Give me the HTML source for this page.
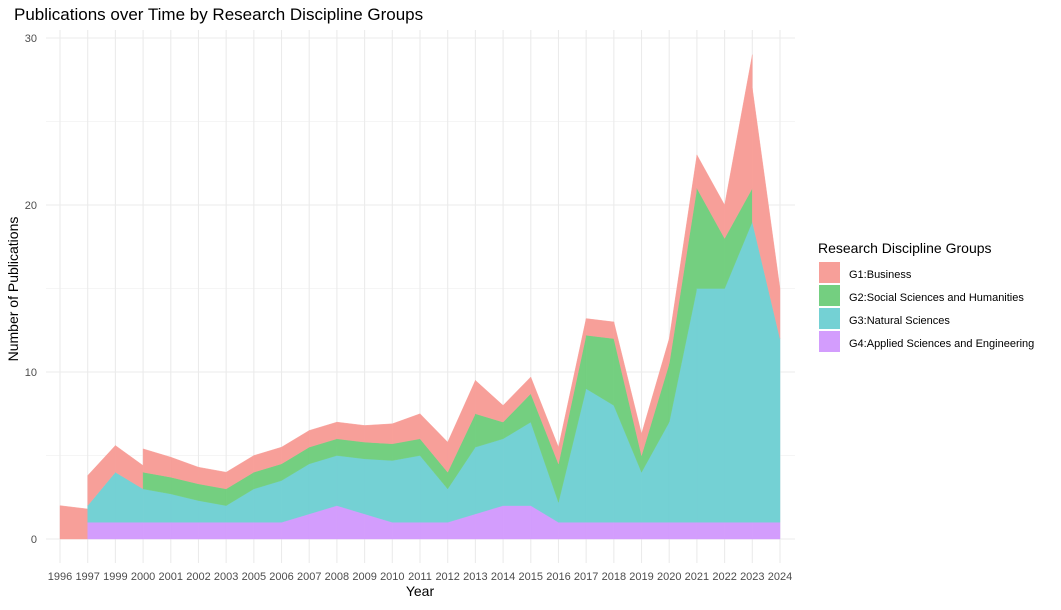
<!DOCTYPE html>
<html><head><meta charset="utf-8"><style>
body{margin:0;background:#fff;width:1061px;height:605px;overflow:hidden}
svg{font-family:"Liberation Sans",sans-serif}
</style></head><body>
<svg id="chart" width="1061" height="605" viewBox="0 0 1061 605">
<text x="14" y="20" font-size="17" fill="#000">Publications over Time by Research Discipline Groups</text>
<g id="grid"></g><g id="areas"></g><g id="axes"></g>
<text x="420" y="596" font-size="14" text-anchor="middle">Year</text>
<text transform="translate(18,289) rotate(-90)" font-size="14" text-anchor="middle">Number of Publications</text>
<g>
<text x="818" y="253" font-size="14">Research Discipline Groups</text>
<rect x="819" y="262" width="21" height="21" fill="#f79f99"/>
<text x="849" y="278" font-size="11">G1:Business</text>
<rect x="819" y="285" width="21" height="21" fill="#74cf80"/>
<text x="849" y="301" font-size="11">G2:Social Sciences and Humanities</text>
<rect x="819" y="308" width="21" height="21" fill="#74d1d4"/>
<text x="849" y="324" font-size="11">G3:Natural Sciences</text>
<rect x="819" y="331" width="21" height="21" fill="#d39dfd"/>
<text x="849" y="347" font-size="11">G4:Applied Sciences and Engineering</text>
</g>
</svg>
<script>
const years=["1996","1997","1999","2000","2001","2002","2003","2005","2006","2007","2008","2009","2010","2011","2012","2013","2014","2015","2016","2017","2018","2019","2020","2021","2022","2023","2024"];
const g4=[null,1,1,1,1,1,1,1,1,1.5,2,1.5,1,1,1,1.5,2,2,1,1,1,1,1,1,1,1,1];
const g3=[null,1,3,2,1.7,1.3,1,2,2.5,3,3,3.3,3.7,4,2,4,4,5,1.2,8,7,3,6,14,14,18,11];
const g2=[null,null,null,1,1,1,1,1,1,1,1,1,1,1,1,2,1,1.7,2.3,3.2,4,1,3.5,6,3,2,null];
const g1=[2,1.8,1.6,1.4,1.2,1,1,1,1,1,1,1,1.2,1.5,1.8,2,1,1,1,1,1,1.3,1.5,2,2,8,3];
const yTicks=[0,10,20,30];
const NS="http://www.w3.org/2000/svg";
const x0=60,x1=780,yb=539,yt=38,ymax=30;
const xs=i=>x0+i*(x1-x0)/(years.length-1);
const ys=v=>yb-v*(yb-yt)/ymax;
function mk(t,a,p){const e=document.createElementNS(NS,t);for(const k in a)e.setAttribute(k,a[k]);p.appendChild(e);return e;}
const grid=document.getElementById('grid'),areas=document.getElementById('areas'),axes=document.getElementById('axes');
for(let v=0;v<=ymax;v+=5){const l=mk('line',{x1:46,x2:795,y1:ys(v),y2:ys(v),stroke:'#ebebeb','stroke-width':v%10===0?1.1:0.55},grid);

}
years.forEach((y,i)=>{const l=mk('line',{x1:xs(i),x2:xs(i),y1:30,y2:563,stroke:'#ebebeb','stroke-width':1.1},grid);


const t=mk('text',{x:xs(i),y:580,'font-size':11,'text-anchor':'middle',fill:'#4d4d4d'},axes);t.textContent=y;

});
yTicks.forEach(v=>{const t=mk('text',{x:37,y:ys(v)+4,'font-size':11,'text-anchor':'end',fill:'#4d4d4d'},axes);t.textContent=v;

});
const series=[[g4,'#d39dfd','area-g4'],[g3,'#74d1d4','area-g3'],[g2,'#74cf80','area-g2'],[g1,'#f79f99','area-g1']];
// draw segment by segment; base = sum of lower groups present at both ends
for(let i=0;i<years.length-1;i++){
  let bA=0,bB=0;
  series.forEach(([s,c,n])=>{
    const a=s[i],b=s[i+1];
    if(a===null||b===null)return;
    const tA=bA+a,tB=bB+b;
    const pts=[[xs(i),ys(bA)],[xs(i),ys(tA)],[xs(i+1),ys(tB)],[xs(i+1),ys(bB)]].map(p=>p.join(',')).join(' ');
    const p=mk('polygon',{points:pts,fill:c,stroke:c,'stroke-width':0.4},areas);
    
    
    bA=tA;bB=tB;
  });
}
</script>
</body></html>
